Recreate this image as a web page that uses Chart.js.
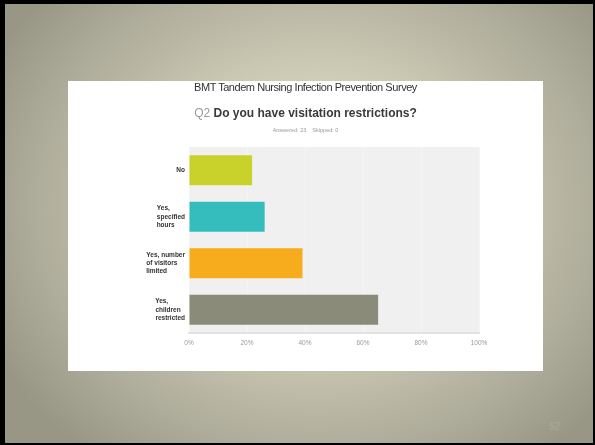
<!DOCTYPE html>
<html>
<head>
<meta charset="utf-8">
<script src="https://cdn.jsdelivr.net/npm/chart.js@4"></script>
<style>
  html, body { margin:0; padding:0; }
  body { width:595px; height:445px; overflow:hidden; position:relative; background:#000; }
  #slide { position:absolute; left:5px; top:4px; width:588px; height:439px;
    background: radial-gradient(ellipse 62% 72% at 53% 46%, #e0dcc8 0%, #d0cdb7 40%, #b0ae9c 75%, #989786 100%); }
  #panel { position:absolute; left:68px; top:81px; width:475px; height:290px; background:#fff; }
  #t1 { position:absolute; left:0; width:475px; top:0px; text-align:center; font-family:"Liberation Sans", Arial, sans-serif; font-size:11px; letter-spacing:-0.45px; color:#333; }
  #t2 { position:absolute; left:0; width:475px; top:25px; text-align:center; font-family:"Liberation Sans", Arial, sans-serif; font-size:12px; font-weight:bold; color:#3a3a3a; }
  #t2 span { color:#999; font-weight:normal; }
  #t3 { position:absolute; left:0; width:475px; top:46px; text-align:center; font-family:"Liberation Sans", Arial, sans-serif; font-size:5.5px; color:#999; }
  #cv { position:absolute; left:0; top:0; }
  #num { position:absolute; left:549px; top:421px; font-family:"Liberation Sans", Arial, sans-serif; font-size:10px; color:#aaa999; }
</style>
</head>
<body>
<div id="slide"></div>
<div id="panel">
  <canvas id="cv" width="475" height="290"></canvas>
  <div id="t1">BMT Tandem Nursing Infection Prevention Survey</div>
  <div id="t2"><span>Q2</span> Do you have visitation restrictions?</div>
  <div id="t3">Answered: 23 &nbsp;&nbsp; Skipped: 0</div>
</div>
<div id="num">52</div>
<script>
const categories = [["No"], ["Yes,", "specified", "hours"], ["Yes, number", "of visitors", "limited"], ["Yes,", "children", "restricted"]];
const values = [21.74, 26.09, 39.13, 65.22];
const barColors = ["#c9d22b", "#35bcbd", "#f7ac1d", "#8b8b7a"];
const xTickLabels = ["0%", "20%", "40%", "60%", "80%", "100%"];

const yFont = 'bold 6.5px "Liberation Sans"';
const mctx = document.createElement('canvas').getContext('2d');
mctx.font = yFont;
// left-align lines inside each right-aligned label block by padding with trailing hair spaces
function padBlock(lines) {
  const w = Math.max(...lines.map(l => mctx.measureText(l).width));
  const sp = mctx.measureText('\u200A').width || 0.5;
  return lines.map(l => l + '\u200A'.repeat(Math.round((w - mctx.measureText(l).width) / sp)));
}

const plotBg = {
  id: 'plotBg',
  beforeDraw(chart) {
    const {ctx, chartArea:a} = chart;
    ctx.save();
    ctx.fillStyle = '#f0f0f0';
    ctx.fillRect(a.left, a.top, a.right - a.left, a.bottom - a.top);
    ctx.restore();
  }
};

new Chart(document.getElementById('cv'), {
  type: 'bar',
  data: {
    labels: categories,
    datasets: [{ data: values, backgroundColor: barColors, borderWidth: 0, barPercentage: 0.645, categoryPercentage: 1 }]
  },
  options: {
    indexAxis: 'y',
    responsive: false,
    animation: false,
    layout: { padding: { left: 0, right: 64, top: 66, bottom: 0 } },
    plugins: { legend: { display: false }, tooltip: { enabled: false } },
    scales: {
      x: {
        min: 0, max: 100,
        ticks: { stepSize: 20, color: '#999', font: { family: 'Liberation Sans', size: 6.5 }, padding: 6,
          callback: (v, i) => xTickLabels[i] },
        grid: { color: '#f5f5f5', lineWidth: 1, drawTicks: false },
        border: { display: true, color: '#e2e2e2', width: 2 },
        afterFit(s) { s.height = 38; }
      },
      y: {
        ticks: { color: '#333', font: { family: 'Liberation Sans', size: 6.5, weight: 'bold', lineHeight: 1.3 }, padding: 4,
          callback: (v, i) => padBlock(categories[i]) },
        grid: { display: false, drawTicks: false },
        border: { display: false },
        afterFit(s) { s.width = 121; }
      }
    }
  },
  plugins: [plotBg]
});
</script>
</body>
</html>
